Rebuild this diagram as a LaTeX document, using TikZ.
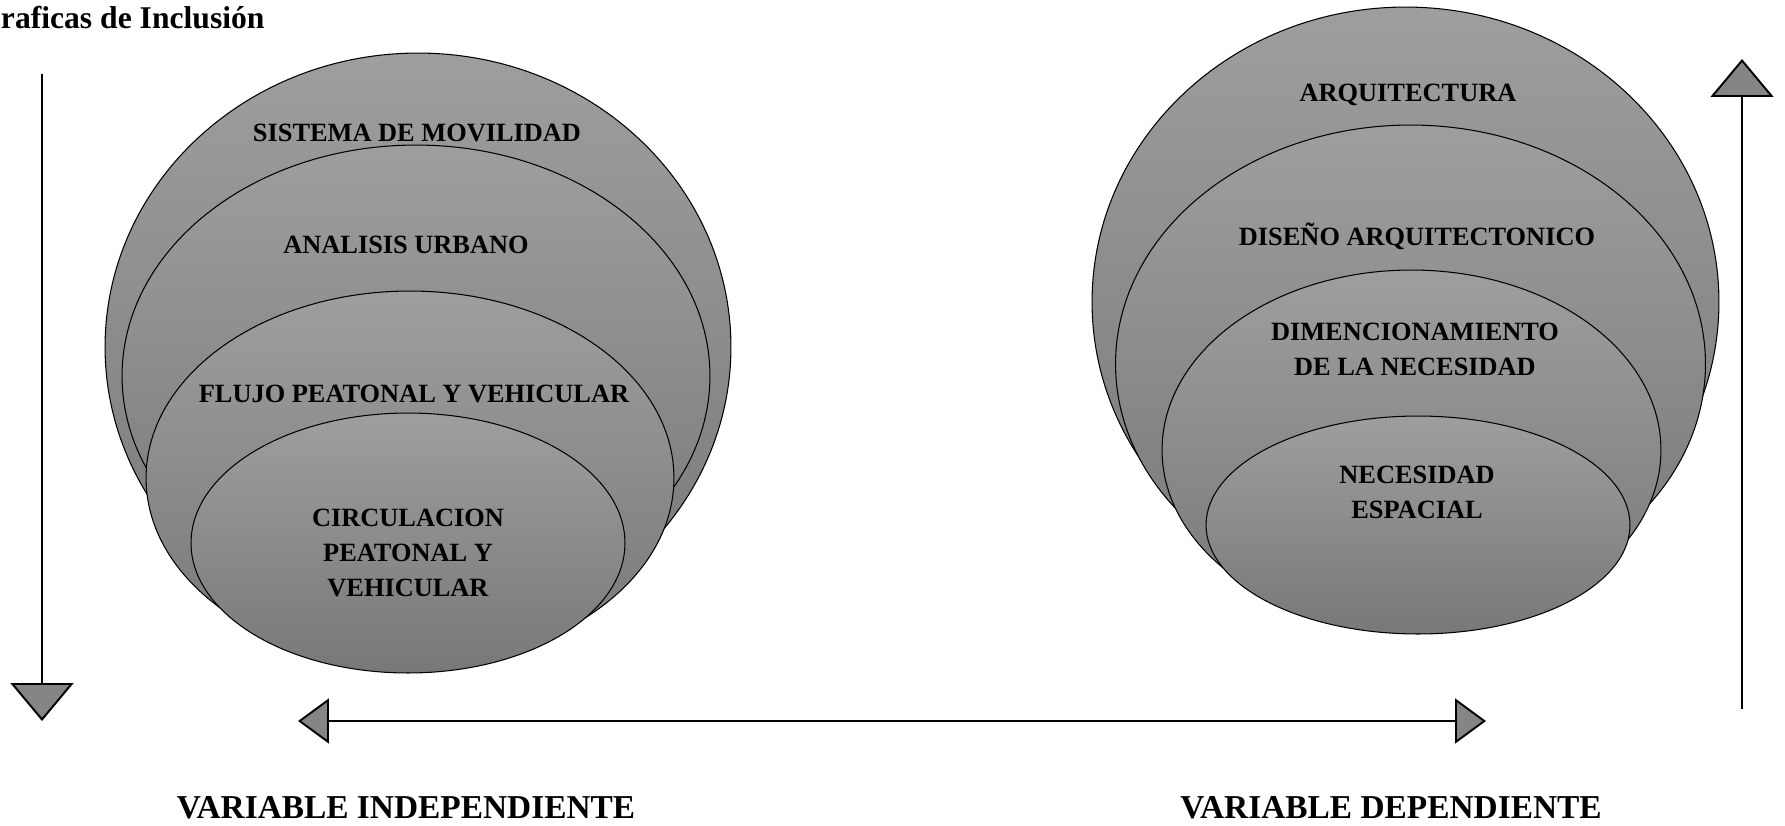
\documentclass[tikz,border=0pt]{standalone}
\usepackage{fontspec}
\setmainfont{Liberation Serif}
\usetikzlibrary{shapes.geometric,arrows.meta,positioning}

\begin{document}
\begin{tikzpicture}[x=0.02cm,y=-0.02cm,
                layer/.style={ellipse,draw=black,line width=0.6pt,inner sep=0pt,
                  top color=black!38,bottom color=black!53},
                layertext/.style={align=center,inner sep=0pt,
                  font=\fontsize{15}{20}\selectfont\bfseries},
                caption/.style={inner sep=0pt,font=\fontsize{19}{22}\selectfont\bfseries},
                bigtip/.style={-{Triangle[width=1.26cm,length=0.76cm,fill=black!48]}},
                smalltip/.style={{Triangle[width=0.9cm,length=0.62cm,fill=black!48]}-{Triangle[width=0.9cm,length=0.62cm,fill=black!48]}},
                line width=1.1pt]
        \useasboundingbox (0,0) rectangle (1785,825);

        \node[inner sep=0pt,anchor=west,font=\fontsize{18}{20}\selectfont\bfseries]
             (title) at (0,18) {raficas de Inclusión};

        % independent variable
        \node[layer,minimum width=12.52cm,minimum height=11.76cm] (mov)  at (418,347) {};
        \node[layer,minimum width=11.76cm,minimum height=9.24cm]  (urb)  at (416,376) {};
        \node[layer,minimum width=10.56cm,minimum height=7.48cm]  (flu)  at (410,478) {};
        \node[layer,minimum width=8.68cm,minimum height=5.2cm]    (circ) at (408,543) {};

        % dependent variable
        \node[layer,minimum width=12.54cm,minimum height=11.8cm]  (arq)  at (1405.5,302) {};
        \node[layer,minimum width=11.8cm,minimum height=9.56cm]   (dis)  at (1410.5,364) {};
        \node[layer,minimum width=9.98cm,minimum height=7.2cm]    (dim)  at (1411.5,450) {};
        \node[layer,minimum width=8.48cm,minimum height=4.36cm]   (nec)  at (1418,525) {};

        \node[layertext] (movt)  at (417,133) {SISTEMA DE MOVILIDAD};
        \node[layertext] (urbt)  at (406,245) {ANALISIS URBANO};
        \node[layertext] (flut)  at (414,394) {FLUJO PEATONAL Y VEHICULAR};
        \node[layertext] (circt) at (408,553) {CIRCULACION\\PEATONAL Y\\VEHICULAR};

        \node[layertext] (arqt)  at (1408,95)  {ARQUITECTURA};
        \node[layertext] (dist)  at (1417,236) {DISEÑO ARQUITECTONICO};
        \node[layertext] (dimt)  at (1415,349) {DIMENCIONAMIENTO\\DE LA NECESIDAD};
        \node[layertext] (nect)  at (1417,492) {NECESIDAD\\ESPACIAL};

        % arrows
        \coordinate (ltop) at (42,74);
        \coordinate (lbot) at (42,721);
        \coordinate (rbot) at (1742,709);
        \coordinate (rtop) at (1742,59);
        \coordinate (hleft) at (298,721);
        \coordinate (hright) at (1486,721);

        \draw[bigtip] (ltop) -- (lbot);
        \draw[bigtip] (rbot) -- (rtop);
        \draw[smalltip] (hleft) -- (hright);

        \node[caption] (indep) at (406,808) {VARIABLE INDEPENDIENTE};
        \node[caption] (dep)   at (1391,808) {VARIABLE DEPENDIENTE};

\end{tikzpicture}
\end{document}
